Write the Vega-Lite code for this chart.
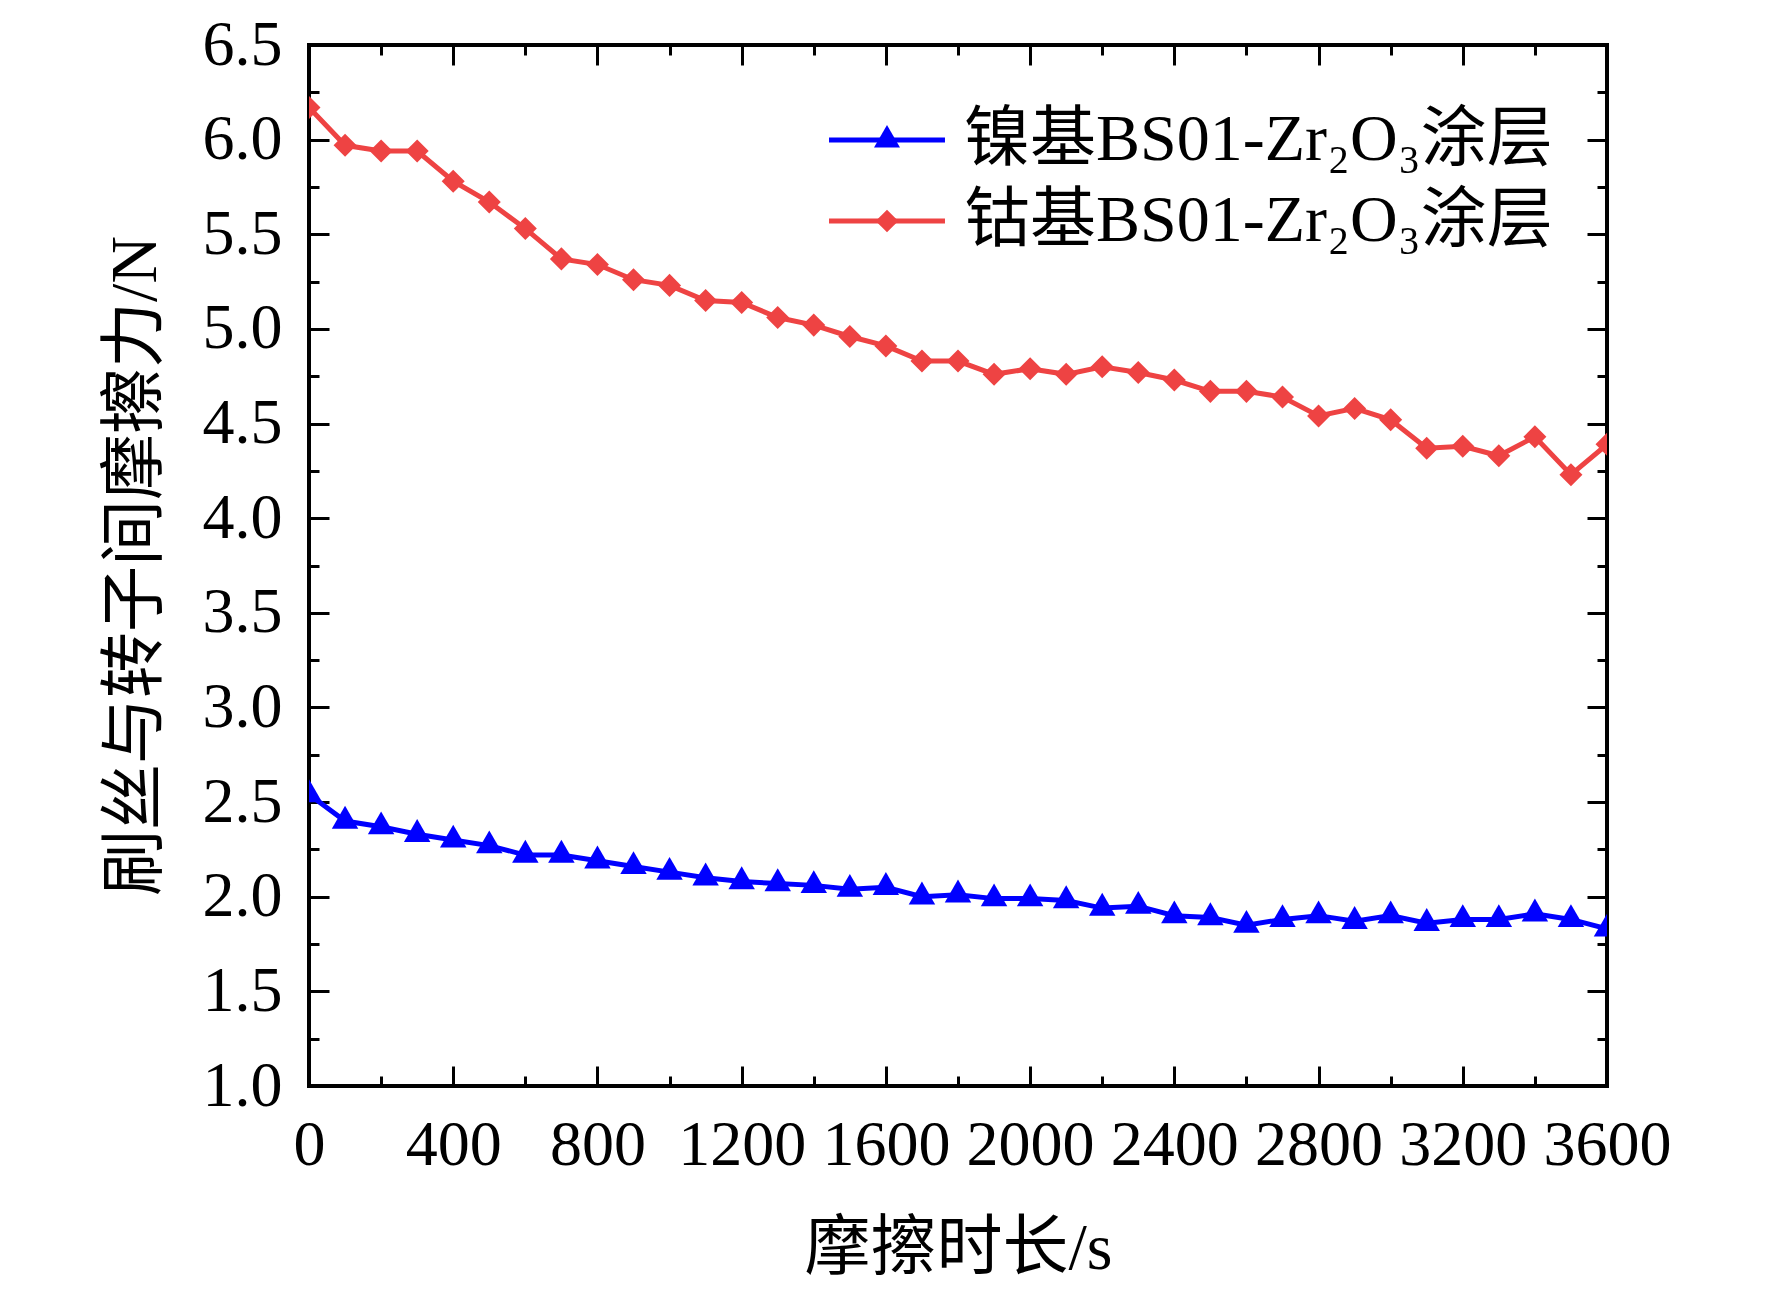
{
  "$schema": "https://vega.github.io/schema/vega-lite/v6.json",
  "width": 1298,
  "height": 1041,
  "autosize": {"type": "none"},
  "padding": {"left": 309, "top": 45, "right": 165, "bottom": 213},
  "background": "white",
  "config": {
    "font": "Liberation Serif, Noto Sans CJK SC",
    "view": {"stroke": "black", "strokeWidth": 4},
    "axis": {
      "grid": false,
      "domain": false,
      "tickColor": "black",
      "tickWidth": 3,
      "labelColor": "black",
      "labelFont": "Liberation Serif, Noto Sans CJK SC",
      "labelFontSize": 64,
      "titleFont": "Liberation Serif, Noto Sans CJK SC",
      "titleFontSize": 66,
      "titleFontWeight": "normal",
      "titleColor": "black",
      "labelFlush": false,
      "labelOverlap": false,
      "labelBound": false,
      "zindex": 1
    }
  },
  "data": {
    "values": [
      {"t": 0, "f": 2.54, "series": "镍基BS01-Zr₂O₃涂层"},
      {"t": 100, "f": 2.40, "series": "镍基BS01-Zr₂O₃涂层"},
      {"t": 200, "f": 2.37, "series": "镍基BS01-Zr₂O₃涂层"},
      {"t": 300, "f": 2.33, "series": "镍基BS01-Zr₂O₃涂层"},
      {"t": 400, "f": 2.30, "series": "镍基BS01-Zr₂O₃涂层"},
      {"t": 500, "f": 2.27, "series": "镍基BS01-Zr₂O₃涂层"},
      {"t": 600, "f": 2.22, "series": "镍基BS01-Zr₂O₃涂层"},
      {"t": 700, "f": 2.22, "series": "镍基BS01-Zr₂O₃涂层"},
      {"t": 800, "f": 2.19, "series": "镍基BS01-Zr₂O₃涂层"},
      {"t": 900, "f": 2.16, "series": "镍基BS01-Zr₂O₃涂层"},
      {"t": 1000, "f": 2.13, "series": "镍基BS01-Zr₂O₃涂层"},
      {"t": 1100, "f": 2.10, "series": "镍基BS01-Zr₂O₃涂层"},
      {"t": 1200, "f": 2.08, "series": "镍基BS01-Zr₂O₃涂层"},
      {"t": 1300, "f": 2.07, "series": "镍基BS01-Zr₂O₃涂层"},
      {"t": 1400, "f": 2.06, "series": "镍基BS01-Zr₂O₃涂层"},
      {"t": 1500, "f": 2.04, "series": "镍基BS01-Zr₂O₃涂层"},
      {"t": 1600, "f": 2.05, "series": "镍基BS01-Zr₂O₃涂层"},
      {"t": 1700, "f": 2.00, "series": "镍基BS01-Zr₂O₃涂层"},
      {"t": 1800, "f": 2.01, "series": "镍基BS01-Zr₂O₃涂层"},
      {"t": 1900, "f": 1.99, "series": "镍基BS01-Zr₂O₃涂层"},
      {"t": 2000, "f": 1.99, "series": "镍基BS01-Zr₂O₃涂层"},
      {"t": 2100, "f": 1.98, "series": "镍基BS01-Zr₂O₃涂层"},
      {"t": 2200, "f": 1.94, "series": "镍基BS01-Zr₂O₃涂层"},
      {"t": 2300, "f": 1.95, "series": "镍基BS01-Zr₂O₃涂层"},
      {"t": 2400, "f": 1.90, "series": "镍基BS01-Zr₂O₃涂层"},
      {"t": 2500, "f": 1.89, "series": "镍基BS01-Zr₂O₃涂层"},
      {"t": 2600, "f": 1.85, "series": "镍基BS01-Zr₂O₃涂层"},
      {"t": 2700, "f": 1.88, "series": "镍基BS01-Zr₂O₃涂层"},
      {"t": 2800, "f": 1.90, "series": "镍基BS01-Zr₂O₃涂层"},
      {"t": 2900, "f": 1.87, "series": "镍基BS01-Zr₂O₃涂层"},
      {"t": 3000, "f": 1.90, "series": "镍基BS01-Zr₂O₃涂层"},
      {"t": 3100, "f": 1.86, "series": "镍基BS01-Zr₂O₃涂层"},
      {"t": 3200, "f": 1.88, "series": "镍基BS01-Zr₂O₃涂层"},
      {"t": 3300, "f": 1.88, "series": "镍基BS01-Zr₂O₃涂层"},
      {"t": 3400, "f": 1.91, "series": "镍基BS01-Zr₂O₃涂层"},
      {"t": 3500, "f": 1.88, "series": "镍基BS01-Zr₂O₃涂层"},
      {"t": 3600, "f": 1.83, "series": "镍基BS01-Zr₂O₃涂层"},
      {"t": 0, "f": 6.17, "series": "钴基BS01-Zr₂O₃涂层"},
      {"t": 100, "f": 5.97, "series": "钴基BS01-Zr₂O₃涂层"},
      {"t": 200, "f": 5.94, "series": "钴基BS01-Zr₂O₃涂层"},
      {"t": 300, "f": 5.94, "series": "钴基BS01-Zr₂O₃涂层"},
      {"t": 400, "f": 5.78, "series": "钴基BS01-Zr₂O₃涂层"},
      {"t": 500, "f": 5.67, "series": "钴基BS01-Zr₂O₃涂层"},
      {"t": 600, "f": 5.53, "series": "钴基BS01-Zr₂O₃涂层"},
      {"t": 700, "f": 5.37, "series": "钴基BS01-Zr₂O₃涂层"},
      {"t": 800, "f": 5.34, "series": "钴基BS01-Zr₂O₃涂层"},
      {"t": 900, "f": 5.26, "series": "钴基BS01-Zr₂O₃涂层"},
      {"t": 1000, "f": 5.23, "series": "钴基BS01-Zr₂O₃涂层"},
      {"t": 1100, "f": 5.15, "series": "钴基BS01-Zr₂O₃涂层"},
      {"t": 1200, "f": 5.14, "series": "钴基BS01-Zr₂O₃涂层"},
      {"t": 1300, "f": 5.06, "series": "钴基BS01-Zr₂O₃涂层"},
      {"t": 1400, "f": 5.02, "series": "钴基BS01-Zr₂O₃涂层"},
      {"t": 1500, "f": 4.96, "series": "钴基BS01-Zr₂O₃涂层"},
      {"t": 1600, "f": 4.91, "series": "钴基BS01-Zr₂O₃涂层"},
      {"t": 1700, "f": 4.83, "series": "钴基BS01-Zr₂O₃涂层"},
      {"t": 1800, "f": 4.83, "series": "钴基BS01-Zr₂O₃涂层"},
      {"t": 1900, "f": 4.76, "series": "钴基BS01-Zr₂O₃涂层"},
      {"t": 2000, "f": 4.79, "series": "钴基BS01-Zr₂O₃涂层"},
      {"t": 2100, "f": 4.76, "series": "钴基BS01-Zr₂O₃涂层"},
      {"t": 2200, "f": 4.80, "series": "钴基BS01-Zr₂O₃涂层"},
      {"t": 2300, "f": 4.77, "series": "钴基BS01-Zr₂O₃涂层"},
      {"t": 2400, "f": 4.73, "series": "钴基BS01-Zr₂O₃涂层"},
      {"t": 2500, "f": 4.67, "series": "钴基BS01-Zr₂O₃涂层"},
      {"t": 2600, "f": 4.67, "series": "钴基BS01-Zr₂O₃涂层"},
      {"t": 2700, "f": 4.64, "series": "钴基BS01-Zr₂O₃涂层"},
      {"t": 2800, "f": 4.54, "series": "钴基BS01-Zr₂O₃涂层"},
      {"t": 2900, "f": 4.58, "series": "钴基BS01-Zr₂O₃涂层"},
      {"t": 3000, "f": 4.52, "series": "钴基BS01-Zr₂O₃涂层"},
      {"t": 3100, "f": 4.37, "series": "钴基BS01-Zr₂O₃涂层"},
      {"t": 3200, "f": 4.38, "series": "钴基BS01-Zr₂O₃涂层"},
      {"t": 3300, "f": 4.33, "series": "钴基BS01-Zr₂O₃涂层"},
      {"t": 3400, "f": 4.43, "series": "钴基BS01-Zr₂O₃涂层"},
      {"t": 3500, "f": 4.23, "series": "钴基BS01-Zr₂O₃涂层"},
      {"t": 3600, "f": 4.39, "series": "钴基BS01-Zr₂O₃涂层"}
    ]
  },
  "resolve": {"axis": {"x": "independent", "y": "independent"}},
  "layer": [
    {
      "mark": {"type": "line", "strokeWidth": 5, "clip": true},
      "encoding": {
        "x": {
          "field": "t",
          "type": "quantitative",
          "scale": {"domain": [0, 3600], "nice": false, "zero": false},
          "axis": {
            "orient": "bottom",
            "values": [0, 400, 800, 1200, 1600, 2000, 2400, 2800, 3200, 3600],
            "format": "d",
            "tickSize": -20,
            "labelPadding": 47,
            "title": "摩擦时长/s",
            "titleY": 162,
            "titleBaseline": "middle"
          }
        },
        "y": {
          "field": "f",
          "type": "quantitative",
          "scale": {"domain": [1, 6.5], "nice": false, "zero": false},
          "axis": {
            "orient": "left",
            "values": [1, 1.5, 2, 2.5, 3, 3.5, 4, 4.5, 5, 5.5, 6, 6.5],
            "format": ".1f",
            "tickSize": -20,
            "labelPadding": 47,
            "title": "刷丝与转子间摩擦力/N",
            "titleX": -174,
            "titleBaseline": "middle"
          }
        },
        "color": {
          "field": "series",
          "type": "nominal",
          "sort": ["镍基BS01-Zr₂O₃涂层", "钴基BS01-Zr₂O₃涂层"],
          "scale": {"range": ["#0000ff", "#ee4343"]},
          "legend": {
            "orient": "none",
            "legendX": 545,
            "legendY": 62,
            "title": null,
            "padding": 0,
            "symbolType": "M-4.46,0H4.46",
            "symbolSize": 676,
            "symbolStrokeWidth": 5,
            "labelFont": "Liberation Serif, Noto Sans CJK SC",
            "labelFontSize": 66,
            "labelColor": "black",
            "labelOffset": 44,
            "labelLimit": 0,
            "rowPadding": 15
          }
        }
      }
    },
    {
      "mark": {"type": "point", "filled": true, "opacity": 1, "size": 700, "clip": true},
      "encoding": {
        "x": {
          "field": "t",
          "type": "quantitative",
          "axis": {
            "orient": "bottom",
            "values": [0, 200, 400, 600, 800, 1000, 1200, 1400, 1600, 1800, 2000, 2200, 2400, 2600, 2800, 3000, 3200, 3400, 3600],
            "tickSize": -10,
            "labels": false,
            "title": null
          }
        },
        "y": {
          "field": "f",
          "type": "quantitative",
          "axis": {
            "orient": "left",
            "values": [1, 1.25, 1.5, 1.75, 2, 2.25, 2.5, 2.75, 3, 3.25, 3.5, 3.75, 4, 4.25, 4.5, 4.75, 5, 5.25, 5.5, 5.75, 6, 6.25, 6.5],
            "tickSize": -10,
            "labels": false,
            "title": null
          }
        },
        "fill": {
          "field": "series",
          "type": "nominal",
          "scale": {"domain": ["镍基BS01-Zr₂O₃涂层", "钴基BS01-Zr₂O₃涂层"], "range": ["#0000ff", "#ee4343"]},
          "legend": {
            "orient": "none",
            "legendX": 545,
            "legendY": 62,
            "title": null,
            "padding": 0,
            "symbolSize": 676,
            "labelFont": "Liberation Serif, Noto Sans CJK SC",
            "labelFontSize": 66,
            "labelOpacity": 0,
            "labelOffset": 44,
            "labelLimit": 0,
            "rowPadding": 15
          }
        },
        "shape": {
          "field": "series",
          "type": "nominal",
          "scale": {"domain": ["镍基BS01-Zr₂O₃涂层", "钴基BS01-Zr₂O₃涂层"], "range": ["M0,-1.15L1,0.58L-1,0.58Z", "M0,-0.87L0.87,0L0,0.87L-0.87,0Z"]},
          "legend": {
            "orient": "none",
            "legendX": 545,
            "legendY": 62,
            "title": null,
            "padding": 0,
            "symbolSize": 676,
            "labelFont": "Liberation Serif, Noto Sans CJK SC",
            "labelFontSize": 66,
            "labelOpacity": 0,
            "labelOffset": 44,
            "labelLimit": 0,
            "rowPadding": 15
          }
        }
      }
    },
    {
      "mark": {"type": "point", "opacity": 0},
      "encoding": {
        "x": {
          "field": "t",
          "type": "quantitative",
          "axis": {
            "orient": "top",
            "values": [0, 400, 800, 1200, 1600, 2000, 2400, 2800, 3200, 3600],
            "tickSize": -20,
            "labels": false,
            "title": null
          }
        },
        "y": {
          "field": "f",
          "type": "quantitative",
          "axis": {
            "orient": "right",
            "values": [1, 1.5, 2, 2.5, 3, 3.5, 4, 4.5, 5, 5.5, 6, 6.5],
            "tickSize": -20,
            "labels": false,
            "title": null
          }
        }
      }
    },
    {
      "mark": {"type": "point", "opacity": 0},
      "encoding": {
        "x": {
          "field": "t",
          "type": "quantitative",
          "axis": {
            "orient": "top",
            "values": [0, 200, 400, 600, 800, 1000, 1200, 1400, 1600, 1800, 2000, 2200, 2400, 2600, 2800, 3000, 3200, 3400, 3600],
            "tickSize": -10,
            "labels": false,
            "title": null
          }
        },
        "y": {
          "field": "f",
          "type": "quantitative",
          "axis": {
            "orient": "right",
            "values": [1, 1.25, 1.5, 1.75, 2, 2.25, 2.5, 2.75, 3, 3.25, 3.5, 3.75, 4, 4.25, 4.5, 4.75, 5, 5.25, 5.5, 5.75, 6, 6.25, 6.5],
            "tickSize": -10,
            "labels": false,
            "title": null
          }
        }
      }
    }
  ]
}
